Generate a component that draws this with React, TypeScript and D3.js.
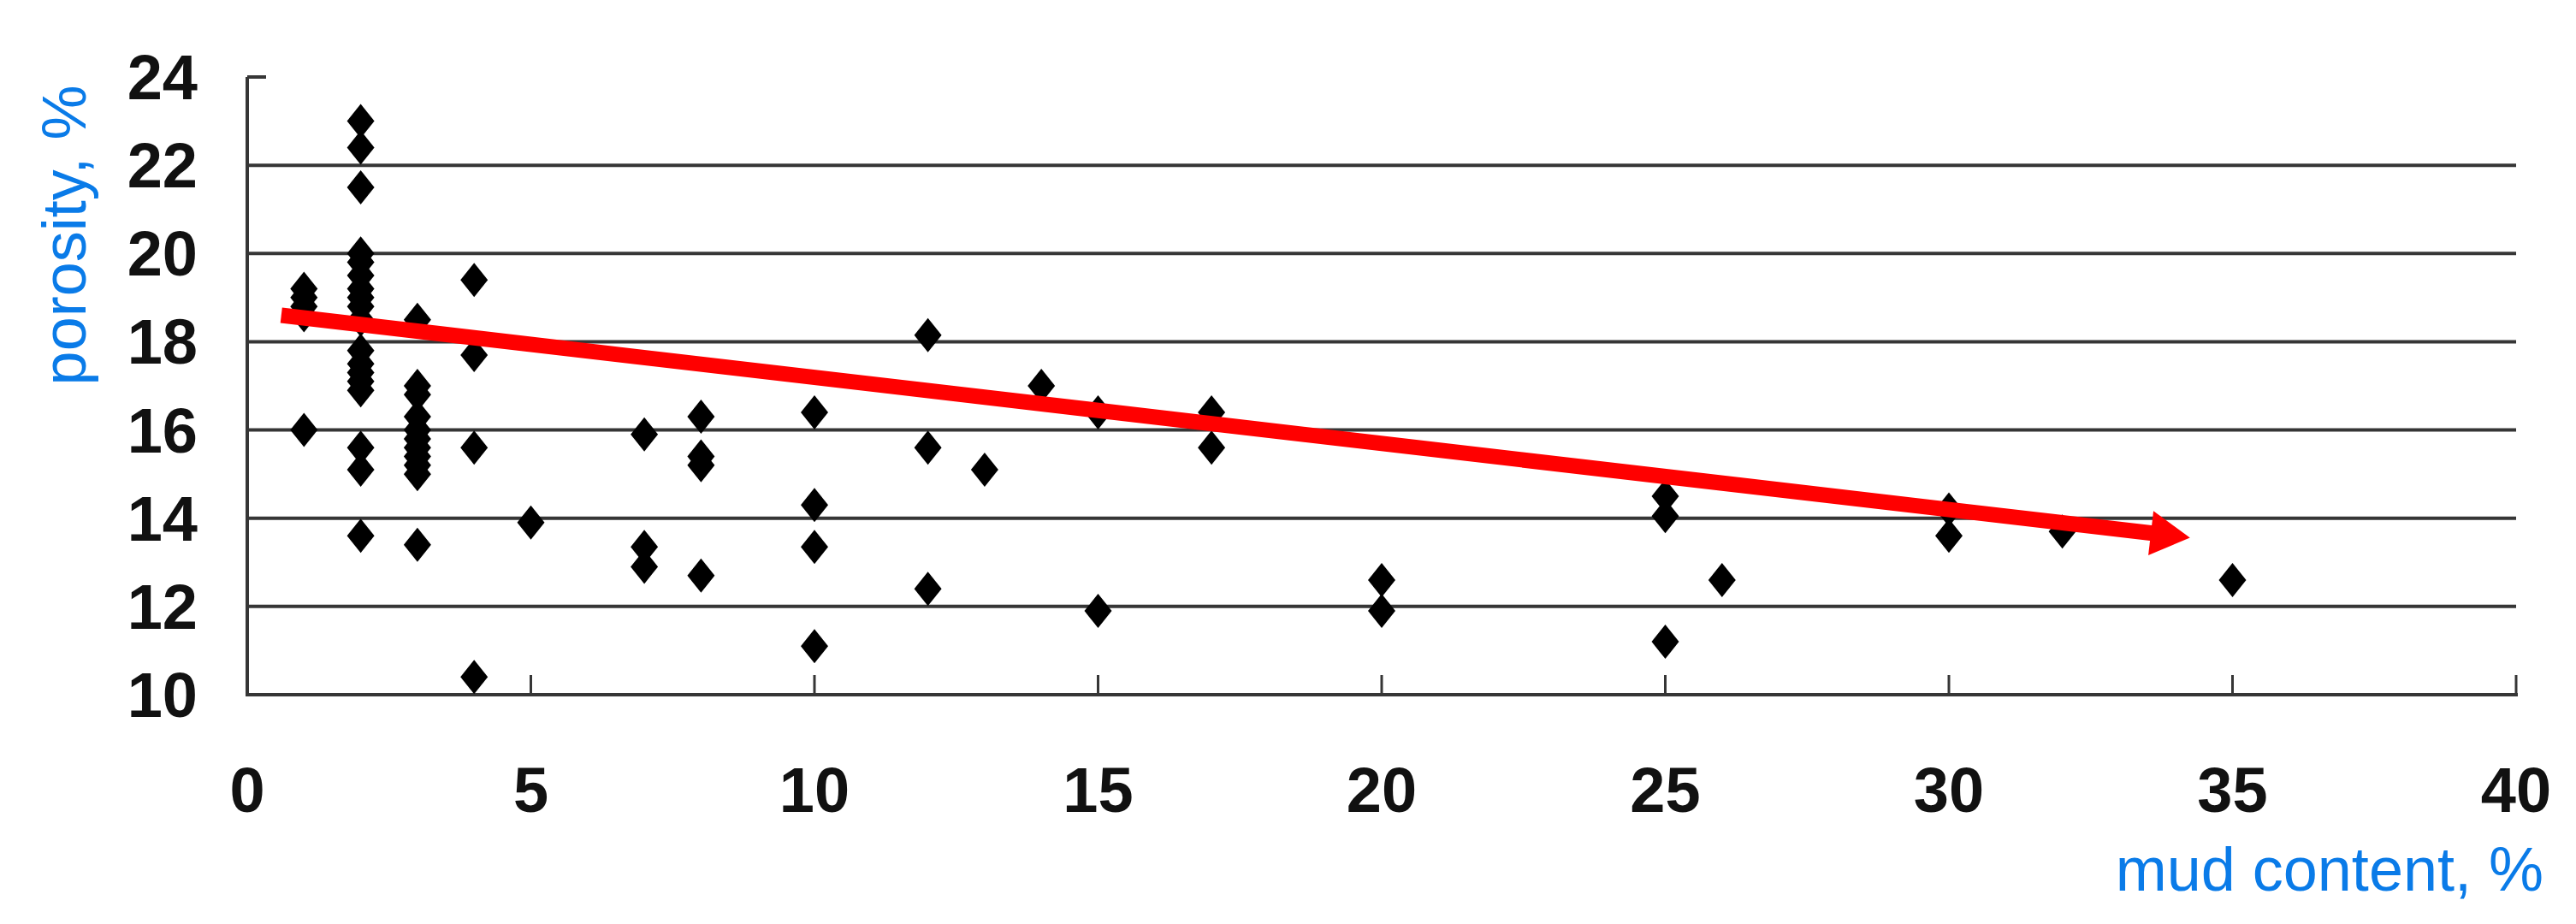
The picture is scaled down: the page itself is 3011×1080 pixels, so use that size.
import React from "react";
import * as d3 from "d3";

// mud content (%) and porosity (%), one pair per point
const mudContent = [
  1, 1, 1, 1, 1,
  2, 2, 2, 2, 2, 2, 2, 2, 2, 2, 2, 2, 2, 2, 2, 2, 2, 2,
  3, 3, 3, 3, 3, 3, 3, 3, 3, 3, 3,
  4, 4, 4, 4,
  5,
  7, 7, 7,
  8, 8, 8, 8,
  10, 10, 10, 10,
  12, 12, 12,
  13,
  14,
  15, 15,
  17, 17,
  20, 20,
  25, 25, 25,
  26,
  30, 30,
  32,
  35,
];
const porosity = [
  19.2, 19.0, 18.8, 18.6, 16.0,
  23.0, 22.4, 21.5, 20.0, 19.8, 19.5, 19.2, 19.0, 18.8, 18.5, 17.8, 17.5, 17.3, 17.1, 16.9, 15.6, 15.1, 13.6,
  18.5, 17.0, 16.8, 16.3, 16.0, 15.8, 15.6, 15.4, 15.2, 15.0, 13.4,
  19.4, 17.7, 15.6, 10.4,
  13.9,
  15.9, 13.35, 12.9,
  16.3, 15.4, 15.2, 12.7,
  16.4, 14.3, 13.35, 11.1,
  18.15, 15.6, 12.4,
  15.1,
  17.0,
  16.4, 11.9,
  16.4, 15.6,
  12.6, 11.9,
  14.5, 14.05, 11.2,
  12.6,
  14.2, 13.6,
  13.7,
  12.6,
];

const xTicks = [0, 5, 10, 15, 20, 25, 30, 35, 40];
const yTicks = [10, 12, 14, 16, 18, 20, 22, 24];

// hand drawn trend arrow (start, tip) in data units
const trendFrom = [0.6, 18.6];
const trendTo = [34.25, 13.56];

const xTitle = "mud content, %";
const yTitle = "porosity, %";

export default function App() {
  const width = 3011;
  const height = 1080;

  const x = d3.scaleLinear().domain([0, 40]).range([289, 2941]);
  const y = d3.scaleLinear().domain([10, 24]).range([812, 90]);

  const axisColor = "#363636";
  const labelFont = "'Liberation Sans', Arial, Helvetica, sans-serif";
  const titleColor = "#0a7be8";

  const points = mudContent.map((m, i) => [x(m), y(porosity[i])]);

  const diamond = (cx: number, cy: number) =>
    `M${cx},${cy - 20}L${cx + 16},${cy}L${cx},${cy + 20}L${cx - 16},${cy}Z`;

  // arrow geometry in pixels
  const x0 = x(trendFrom[0]);
  const y0 = y(trendFrom[1]);
  const x1 = x(trendTo[0]);
  const y1 = y(trendTo[1]);
  const len = Math.hypot(x1 - x0, y1 - y0);
  const ux = (x1 - x0) / len;
  const uy = (y1 - y0) / len;
  const headLen = 46;
  const headHalf = 26;
  const bx = x1 - ux * headLen;
  const by = y1 - uy * headLen;
  const head = `M${x1},${y1}L${bx - uy * headHalf},${by + ux * headHalf}L${bx + uy * headHalf},${by - ux * headHalf}Z`;

  return (
    <svg
      width={width}
      height={height}
      style={{ position: "absolute", left: 0, top: 0, background: "#fff" }}
    >
      <rect width={width} height={height} fill="#fff" />

      {/* gridlines */}
      {yTicks
        .filter((t) => t > 10 && t < 24)
        .map((t) => (
          <line
            key={`g${t}`}
            x1={x(0)}
            x2={x(40)}
            y1={y(t)}
            y2={y(t)}
            stroke={axisColor}
            strokeWidth={4}
          />
        ))}

      {/* axes */}
      <line x1={x(0)} x2={x(0)} y1={y(24)} y2={y(10)} stroke={axisColor} strokeWidth={4} />
      <line x1={x(0) - 2} x2={x(40) + 2} y1={y(10)} y2={y(10)} stroke={axisColor} strokeWidth={4} />
      <line x1={x(0)} x2={x(0) + 22} y1={y(24)} y2={y(24)} stroke={axisColor} strokeWidth={4} />
      {xTicks
        .filter((t) => t > 0)
        .map((t) => (
          <line
            key={`xt${t}`}
            x1={x(t)}
            x2={x(t)}
            y1={y(10)}
            y2={y(10) - 23}
            stroke={axisColor}
            strokeWidth={3}
          />
        ))}

      {/* tick labels */}
      {yTicks.map((t) => (
        <text
          key={`yl${t}`}
          x={231}
          y={y(t) + 26}
          textAnchor="end"
          fontFamily={labelFont}
          fontSize={74}
          fontWeight="bold"
          fill="#111"
        >
          {t}
        </text>
      ))}
      {xTicks.map((t) => (
        <text
          key={`xl${t}`}
          x={x(t)}
          y={949}
          textAnchor="middle"
          fontFamily={labelFont}
          fontSize={74}
          fontWeight="bold"
          fill="#111"
        >
          {t}
        </text>
      ))}

      {/* points */}
      {points.map(([cx, cy], i) => (
        <path key={`p${i}`} d={diamond(cx, cy)} fill="#000" />
      ))}

      {/* trend arrow */}
      <line x1={x0} y1={y0} x2={bx + ux * 2} y2={by + uy * 2} stroke="#ff0000" strokeWidth={18} />
      <path d={head} fill="#ff0000" />

      {/* axis titles */}
      <text
        transform={`translate(100, 275) rotate(-90)`}
        textAnchor="middle"
        fontFamily={labelFont}
        fontSize={72}
        fill={titleColor}
      >
        {yTitle}
      </text>
      <text
        x={2973}
        y={1041}
        textAnchor="end"
        fontFamily={labelFont}
        fontSize={72}
        fill={titleColor}
      >
        {xTitle}
      </text>
    </svg>
  );
}
